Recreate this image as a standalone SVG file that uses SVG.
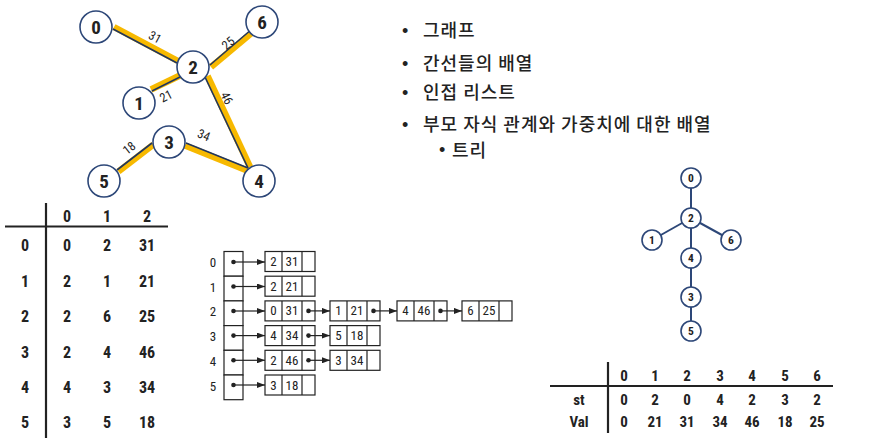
<svg xmlns="http://www.w3.org/2000/svg" width="877" height="448" viewBox="0 0 877 448">
<defs>
<style>
.num{font-family:"Liberation Sans Narrow","Roboto Condensed","Liberation Sans",Arial,sans-serif;font-weight:bold;fill:#222;text-anchor:middle;dominant-baseline:central}
.gn{font-size:19px}
.el{font-size:12.5px;font-weight:normal}
.tn{font-size:11.5px}
.ad{font-size:13px;font-weight:normal}
.tb{font-size:16px}
.bt{font-size:15px}
.kr{font-family:"Noto Sans CJK KR","Noto Sans",sans-serif;fill:#222;font-size:18px;font-weight:500;letter-spacing:1px}
.bul{font-family:"Liberation Sans",Arial,sans-serif;fill:#222;font-size:18px}
.circ{fill:#fff;stroke:#2d4778;stroke-width:1.6}
.yel{stroke:#f7b900;stroke-width:6.5;stroke-linecap:butt;fill:none}
.blu{stroke:#1f3560;stroke-width:1.6;fill:none}
.tline{stroke:#2d4778;stroke-width:2;fill:none}
.box{fill:#fff;stroke:#222;stroke-width:1.2}
.ptr{stroke:#222;stroke-width:1.2;fill:none;marker-end:url(#ah)}
.rule{stroke:#222;stroke-width:2.2}
</style>
<marker id="ah" viewBox="0 0 8 6" refX="8" refY="3" markerWidth="8" markerHeight="6" markerUnits="userSpaceOnUse" orient="auto">
<path d="M0,0 L8,3 L0,6 z" fill="#222"/>
</marker>
</defs>
<rect width="877" height="448" fill="#fff"/>

<!-- Graph -->
<g id="graph-edges">
<line class="yel" x1="114" y1="27" x2="178" y2="61"/>
<line class="blu" x1="113" y1="29" x2="177" y2="63"/>
<line class="yel" x1="211" y1="67" x2="254" y2="31"/>
<line class="blu" x1="210" y1="65" x2="252" y2="29"/>
<line class="yel" x1="182" y1="74.5" x2="151" y2="89.5"/>
<line class="blu" x1="182" y1="76" x2="152" y2="91"/>
<line class="yel" x1="207.5" y1="76" x2="250" y2="167"/>
<line class="blu" x1="205" y1="77" x2="248" y2="168"/>
<line class="yel" x1="185" y1="145.5" x2="247" y2="170.5"/>
<line class="blu" x1="186" y1="143" x2="248" y2="168"/>
<line class="yel" x1="118.5" y1="171.5" x2="153.5" y2="144.5"/>
<line class="blu" x1="117" y1="170" x2="152" y2="143"/>
<g class="num el">
<text transform="translate(155,37) rotate(28)">31</text>
<text transform="translate(228,43) rotate(-40)">25</text>
<text transform="translate(166,96) rotate(-27)">21</text>
<text transform="translate(227,98) rotate(64)">46</text>
<text transform="translate(204,135) rotate(22)">34</text>
<text transform="translate(129,148) rotate(-38)">18</text>
</g>
</g>
<g id="g0"><circle class="circ" cx="96" cy="27" r="16"/><text class="num gn" x="96" y="27">0</text></g>
<g id="g1"><circle class="circ" cx="139" cy="103" r="16"/><text class="num gn" x="139" y="103">1</text></g>
<g id="g2"><circle class="circ" cx="193" cy="67" r="16"/><text class="num gn" x="193" y="67">2</text></g>
<g id="g3"><circle class="circ" cx="169" cy="142" r="16"/><text class="num gn" x="169" y="142">3</text></g>
<g id="g4"><circle class="circ" cx="259" cy="181" r="16"/><text class="num gn" x="259" y="181">4</text></g>
<g id="g5"><circle class="circ" cx="104" cy="181" r="16"/><text class="num gn" x="104" y="181">5</text></g>
<g id="g6"><circle class="circ" cx="262" cy="22" r="16"/><text class="num gn" x="262" y="22">6</text></g>

<!-- Bullets -->
<g id="bullets">
<text class="bul" x="402" y="37">•</text><text class="kr" x="423" y="37">그래프</text>
<text class="bul" x="402" y="70">•</text><text class="kr" x="423" y="70">간선들의 배열</text>
<text class="bul" x="402" y="99">•</text><text class="kr" x="423" y="99">인접 리스트</text>
<text class="bul" x="402" y="131">•</text><text class="kr" x="423" y="131">부모 자식 관계와 가중치에 대한 배열</text>
<text class="bul" x="439" y="156" font-size="14">•</text><text class="kr" x="452" y="157" font-size="17">트리</text>
</g>

<!-- Edge table -->
<g id="edge-table">
<line class="rule" x1="46" y1="203" x2="46" y2="438"/>
<line class="rule" x1="5" y1="226.5" x2="168" y2="226.5"/>
<g class="num tb">
<text x="67" y="216">0</text><text x="107" y="216">1</text><text x="147" y="216">2</text>
<text x="25" y="245.5">0</text><text x="67" y="245.5">0</text><text x="107" y="245.5">2</text><text x="147" y="245.5">31</text>
<text x="25" y="281">1</text><text x="67" y="281">2</text><text x="107" y="281">1</text><text x="147" y="281">21</text>
<text x="25" y="316.5">2</text><text x="67" y="316.5">2</text><text x="107" y="316.5">6</text><text x="147" y="316.5">25</text>
<text x="25" y="352">3</text><text x="67" y="352">2</text><text x="107" y="352">4</text><text x="147" y="352">46</text>
<text x="25" y="387">4</text><text x="67" y="387">4</text><text x="107" y="387">3</text><text x="147" y="387">34</text>
<text x="25" y="422.5">5</text><text x="67" y="422.5">3</text><text x="107" y="422.5">5</text><text x="147" y="422.5">18</text>
</g>
</g>

<!-- Adjacency list -->
<g id="adj-head">
<rect class="box" x="224" y="251.5" width="19" height="24.7"/>
<rect class="box" x="224" y="276.2" width="19" height="24.7"/>
<rect class="box" x="224" y="300.9" width="19" height="24.7"/>
<rect class="box" x="224" y="325.6" width="19" height="24.7"/>
<rect class="box" x="224" y="350.3" width="19" height="24.7"/>
<rect class="box" x="224" y="375" width="19" height="24.7"/>
<g class="num ad">
<text x="213" y="262.5">0</text><text x="213" y="287.2">1</text><text x="213" y="311.9">2</text>
<text x="213" y="336.6">3</text><text x="213" y="361.3">4</text><text x="213" y="386">5</text>
</g>
</g>
<g id="adj-nodes">
<g><rect class="box" x="265" y="251.5" width="50" height="20"/><path class="box" d="M282,251.5V271.5M302,251.5V271.5"/>
<text class="num ad" x="273.5" y="261.5">2</text><text class="num ad" x="292" y="261.5">31</text></g>
<g><rect class="box" x="265" y="276.2" width="50" height="20"/><path class="box" d="M282,276.2V296.2M302,276.2V296.2"/>
<text class="num ad" x="273.5" y="286.2">2</text><text class="num ad" x="292" y="286.2">21</text></g>
<g><rect class="box" x="265" y="300.9" width="50" height="20"/><path class="box" d="M282,300.9V320.9M302,300.9V320.9"/>
<text class="num ad" x="273.5" y="310.9">0</text><text class="num ad" x="292" y="310.9">31</text></g>
<g><rect class="box" x="330" y="300.9" width="50" height="20"/><path class="box" d="M347,300.9V320.9M367,300.9V320.9"/>
<text class="num ad" x="338.5" y="310.9">1</text><text class="num ad" x="357" y="310.9">21</text></g>
<g><rect class="box" x="397" y="300.9" width="50" height="20"/><path class="box" d="M414,300.9V320.9M434,300.9V320.9"/>
<text class="num ad" x="405.5" y="310.9">4</text><text class="num ad" x="424" y="310.9">46</text></g>
<g><rect class="box" x="462" y="300.9" width="50" height="20"/><path class="box" d="M479,300.9V320.9M499,300.9V320.9"/>
<text class="num ad" x="470.5" y="310.9">6</text><text class="num ad" x="489" y="310.9">25</text></g>
<g><rect class="box" x="265" y="325.6" width="50" height="20"/><path class="box" d="M282,325.6V345.6M302,325.6V345.6"/>
<text class="num ad" x="273.5" y="335.6">4</text><text class="num ad" x="292" y="335.6">34</text></g>
<g><rect class="box" x="330" y="325.6" width="50" height="20"/><path class="box" d="M347,325.6V345.6M367,325.6V345.6"/>
<text class="num ad" x="338.5" y="335.6">5</text><text class="num ad" x="357" y="335.6">18</text></g>
<g><rect class="box" x="265" y="350.3" width="50" height="20"/><path class="box" d="M282,350.3V370.3M302,350.3V370.3"/>
<text class="num ad" x="273.5" y="360.3">2</text><text class="num ad" x="292" y="360.3">46</text></g>
<g><rect class="box" x="330" y="350.3" width="50" height="20"/><path class="box" d="M347,350.3V370.3M367,350.3V370.3"/>
<text class="num ad" x="338.5" y="360.3">3</text><text class="num ad" x="357" y="360.3">34</text></g>
<g><rect class="box" x="265" y="375" width="50" height="20"/><path class="box" d="M282,375V395M302,375V395"/>
<text class="num ad" x="273.5" y="385">3</text><text class="num ad" x="292" y="385">18</text></g>
</g>
<g id="adj-pointers" fill="#222">
<circle cx="233.5" cy="262" r="2.3"/><line class="ptr" x1="233.5" y1="262" x2="265" y2="262"/>
<circle cx="233.5" cy="286.5" r="2.3"/><line class="ptr" x1="233.5" y1="286.5" x2="265" y2="286.5"/>
<circle cx="233.5" cy="311" r="2.3"/><line class="ptr" x1="233.5" y1="311" x2="265" y2="311"/>
<circle cx="233.5" cy="335.6" r="2.3"/><line class="ptr" x1="233.5" y1="335.6" x2="265" y2="335.6"/>
<circle cx="233.5" cy="360.3" r="2.3"/><line class="ptr" x1="233.5" y1="360.3" x2="265" y2="360.3"/>
<circle cx="233.5" cy="385" r="2.3"/><line class="ptr" x1="233.5" y1="385" x2="265" y2="385"/>
<circle cx="308.5" cy="310.9" r="2.3"/><line class="ptr" x1="308.5" y1="310.9" x2="330" y2="310.9"/>
<circle cx="373.5" cy="310.9" r="2.3"/><line class="ptr" x1="373.5" y1="310.9" x2="397" y2="310.9"/>
<circle cx="440.5" cy="310.9" r="2.3"/><line class="ptr" x1="440.5" y1="310.9" x2="462" y2="310.9"/>
<circle cx="308.5" cy="335.6" r="2.3"/><line class="ptr" x1="308.5" y1="335.6" x2="330" y2="335.6"/>
<circle cx="308.5" cy="360.3" r="2.3"/><line class="ptr" x1="308.5" y1="360.3" x2="330" y2="360.3"/>
</g>

<!-- Tree -->
<g id="tree-edges">
<line class="tline" x1="691" y1="178" x2="691" y2="218"/>
<line class="tline" x1="691" y1="218" x2="652" y2="240"/>
<line class="tline" x1="691" y1="218" x2="731" y2="240"/>
<line class="tline" x1="691" y1="218" x2="691" y2="258"/>
<line class="tline" x1="691" y1="258" x2="691" y2="297"/>
<line class="tline" x1="691" y1="297" x2="691" y2="331"/>
</g>
<g id="t0"><circle class="circ" cx="691" cy="178" r="10"/><text class="num tn" x="691" y="178">0</text></g>
<g id="t2"><circle class="circ" cx="691" cy="218" r="10"/><text class="num tn" x="691" y="218">2</text></g>
<g id="t1"><circle class="circ" cx="652" cy="240" r="10"/><text class="num tn" x="652" y="240">1</text></g>
<g id="t6"><circle class="circ" cx="731" cy="240" r="10"/><text class="num tn" x="731" y="240">6</text></g>
<g id="t4"><circle class="circ" cx="691" cy="258" r="10"/><text class="num tn" x="691" y="258">4</text></g>
<g id="t3"><circle class="circ" cx="691" cy="297" r="10"/><text class="num tn" x="691" y="297">3</text></g>
<g id="t5"><circle class="circ" cx="691" cy="331" r="10"/><text class="num tn" x="691" y="331">5</text></g>

<!-- Parent / value table -->
<g id="parent-table">
<line class="rule" x1="608" y1="362" x2="608" y2="433"/>
<line class="rule" x1="550" y1="386" x2="833" y2="386"/>
<g class="num bt">
<text x="624" y="376">0</text><text x="655" y="376">1</text><text x="687" y="376">2</text><text x="720" y="376">3</text><text x="752" y="376">4</text><text x="785" y="376">5</text><text x="817" y="376">6</text>
<text x="579" y="400">st</text>
<text x="624" y="400">0</text><text x="655" y="400">2</text><text x="687" y="400">0</text><text x="720" y="400">4</text><text x="752" y="400">2</text><text x="785" y="400">3</text><text x="817" y="400">2</text>
<text x="579" y="422">Val</text>
<text x="624" y="422">0</text><text x="655" y="422">21</text><text x="687" y="422">31</text><text x="720" y="422">34</text><text x="752" y="422">46</text><text x="785" y="422">18</text><text x="817" y="422">25</text>
</g>
</g>
</svg>
